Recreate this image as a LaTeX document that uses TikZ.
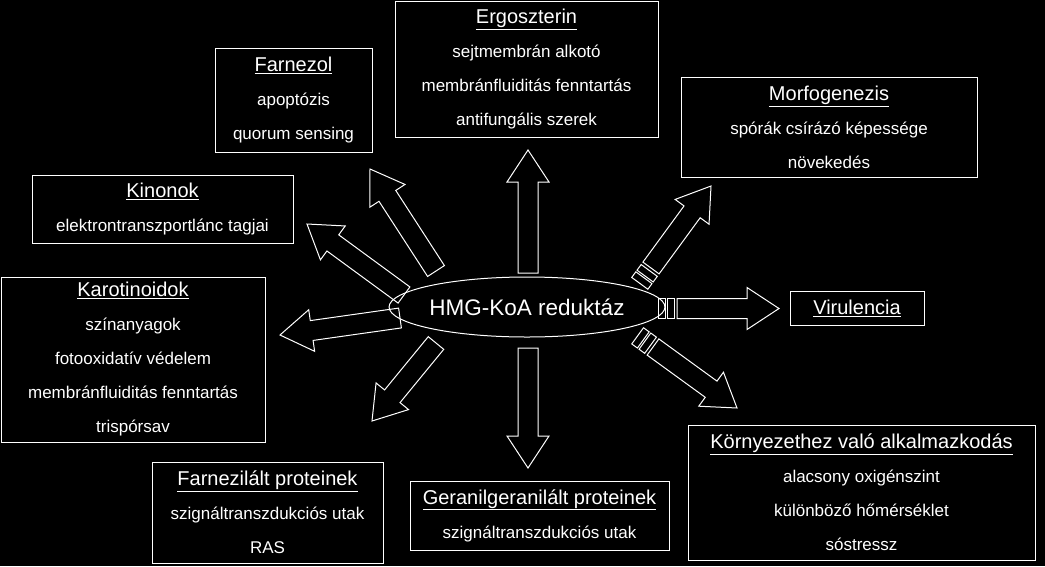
\documentclass[tikz,border=0pt]{standalone}
\usepackage{fontspec}
\setmainfont{Liberation Sans}
\usetikzlibrary{calc,shapes.geometric}
\tikzset{
  box/.style={draw=white,line width=1pt,fill=black,text=white,align=center,inner sep=0pt,
    font=\fontsize{17}{34}\selectfont},
  arr/.style={draw=white,line width=1pt,line join=miter}
}
\newcommand{\ttl}[1]{{\fontsize{20}{20}\selectfont\underline{#1}}}
% block arrow from tail A to tip B
\newcommand{\barrow}[2]{%
  \coordinate (H) at ($(#2)!32pt!(#1)$);
  \draw[arr] ($(#1)!10pt!90:(#2)$) -- ($(H)!10pt!-90:(#1)$) -- ($(H)!21pt!-90:(#1)$) -- (#2)
   -- ($(H)!21pt!90:(#1)$) -- ($(H)!10pt!90:(#1)$) -- ($(#1)!10pt!-90:(#2)$) -- cycle;}
% stripe segment between P and Q, width 20
\newcommand{\seg}[2]{%
  \draw[arr] ($(#1)!10pt!90:(#2)$) -- ($(#2)!10pt!-90:(#1)$) -- ($(#2)!10pt!90:(#1)$) -- ($(#1)!10pt!-90:(#2)$) -- cycle;}
\newcommand{\stripes}[2]{%
  \coordinate (s1) at ($(#1)!-3pt!(#2)$);
  \coordinate (s2) at ($(#1)!-10pt!(#2)$);
  \coordinate (s3) at ($(#1)!-12pt!(#2)$);
  \coordinate (s4) at ($(#1)!-19pt!(#2)$);
  \seg{s1}{s2}\seg{s3}{s4}}
\begin{document}
\begin{tikzpicture}[x=1pt,y=-1pt]
\fill[black] (0,0) rectangle (1045,566);
\useasboundingbox (0,0) rectangle (1045,566);

\node[draw=white,line width=1pt,ellipse,minimum width=248,minimum height=60,text=white,
  inner sep=0pt,font=\fontsize{22.5}{24}\selectfont] (hmg) at (527,307) {HMG-KoA reduktáz};

\node[box,minimum width=157,minimum height=104] (farnezol) at (293.5,100)
  {\ttl{Farnezol}\\apoptózis\\quorum sensing};
\node[box,minimum width=263,minimum height=136] (ergo) at (526.5,69)
  {\ttl{Ergoszterin}\\sejtmembrán alkotó\\membránfluiditás fenntartás\\antifungális szerek};
\node[box,minimum width=296,minimum height=100] (morfo) at (829,127)
  {\ttl{Morfogenezis}\\spórák csírázó képessége\\növekedés};
\node[box,minimum width=261,minimum height=68] (kinon) at (162.5,209)
  {\ttl{Kinonok}\\elektrontranszportlánc tagjai};
\node[box,minimum width=264,minimum height=165] (karot) at (133,359.5)
  {\ttl{Karotinoidok}\\színanyagok\\fotooxidatív védelem\\membránfluiditás fenntartás\\trispórsav};
\node[box,minimum width=134,minimum height=34] (viru) at (857,308) {\ttl{Virulencia}};
\node[box,minimum width=231,minimum height=101] (farprot) at (267.5,512.5)
  {\ttl{Farnezilált proteinek}\\szignáltranszdukciós utak\\RAS};
\node[box,minimum width=259,minimum height=69] (geran) at (539.5,515.5)
  {\ttl{Geranilgeranilált proteinek}\\szignáltranszdukciós utak};
\node[box,minimum width=347,minimum height=135] (korny) at (861.5,492.5)
  {\ttl{Környezethez való alkalmazkodás}\\alacsony oxigénszint\\különböző hőmérséklet\\sóstressz};

% arrows
\coordinate (a1) at (528,273); \coordinate (b1) at (528,150);
\coordinate (a2) at (528,348); \coordinate (b2) at (528,468);
\coordinate (a3) at (436,271); \coordinate (b3) at (370,169);
\coordinate (a4) at (404,295); \coordinate (b4) at (307,224);
\coordinate (a5) at (400,318); \coordinate (b5) at (280,335);
\coordinate (a6) at (436,343); \coordinate (b6) at (372,421);
\coordinate (a7) at (677,308.5); \coordinate (b7) at (779,308.5);
\coordinate (a8) at (651,268); \coordinate (b8) at (711,186);
\coordinate (a9) at (653,347); \coordinate (b9) at (737,408);
\barrow{a1}{b1}
\barrow{a2}{b2}
\barrow{a3}{b3}
\barrow{a4}{b4}
\barrow{a5}{b5}
\barrow{a6}{b6}
\barrow{a7}{b7}\stripes{a7}{b7}
\barrow{a8}{b8}\stripes{a8}{b8}
\barrow{a9}{b9}\stripes{a9}{b9}
\end{tikzpicture}
\end{document}
